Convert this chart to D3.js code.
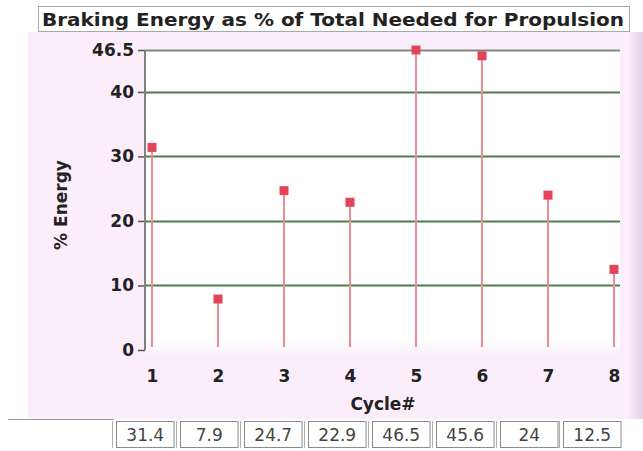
<!DOCTYPE html>
<html>
<head>
<meta charset="utf-8">
<script src="https://cdn.jsdelivr.net/npm/d3@7"></script>
<style>
  body { margin: 0; background: #fff; }
  svg { display: block; }
</style>
</head>
<body>
<div id="content"></div>
<script>
// chart values
var cycles = [1, 2, 3, 4, 5, 6, 7, 8];
var energy = [31.4, 7.9, 24.7, 22.9, 46.5, 45.6, 24, 12.5];
var yTicks = [0, 10, 20, 30, 40, 46.5];
var valueLabels = ['31.4', '7.9', '24.7', '22.9', '46.5', '45.6', '24', '12.5'];

var width = 643, height = 451;
var plot = { left: 145, right: 620, top: 50, bottom: 350 };

var svg = d3.select('#content').append('svg')
    .attr('width', width)
    .attr('height', height);

var defs = svg.append('defs');
var edge = defs.append('linearGradient').attr('id', 'edge')
    .attr('x1', 0).attr('x2', 1).attr('y1', 0).attr('y2', 0);
edge.append('stop').attr('offset', '0').attr('stop-color', '#fbeefa');
edge.append('stop').attr('offset', '1').attr('stop-color', '#e6cfe6');

var fade = defs.append('linearGradient').attr('id', 'fade')
    .attr('x1', 0).attr('x2', 0).attr('y1', 0).attr('y2', 1);
fade.append('stop').attr('offset', '0').attr('stop-color', '#ffffff');
fade.append('stop').attr('offset', '0.94').attr('stop-color', '#ffffff');
fade.append('stop').attr('offset', '1').attr('stop-color', '#fbeefa');

// panel background
svg.append('rect')
    .attr('x', 28).attr('y', 32)
    .attr('width', 602).attr('height', 387)
    .style('fill', '#fbeefa');
svg.append('rect')
    .attr('x', 628).attr('y', 32)
    .attr('width', 15).attr('height', 387)
    .style('fill', 'url(#edge)');

// bottom separator
svg.append('line')
    .attr('x1', 8).attr('x2', 114)
    .attr('y1', 419.5).attr('y2', 419.5)
    .style('stroke', '#9a9a9a');

// plot area
svg.append('rect')
    .attr('x', plot.left).attr('y', plot.top)
    .attr('width', plot.right - plot.left).attr('height', plot.bottom - plot.top + 6)
    .style('fill', 'url(#fade)');

var xScale = d3.scaleLinear()
    .domain([1, 8])
    .range([152, 614]);

var yScale = d3.scaleLinear()
    .domain([0, 46.5])
    .range([plot.bottom, plot.top]);

// grid lines
svg.append('g').selectAll('line')
    .data(yTicks.filter(function(d){ return d > 0; }))
    .enter().append('line')
        .attr('x1', plot.left).attr('x2', plot.right)
        .attr('y1', function(d){ return Math.round(yScale(d)) + 0.5; })
        .attr('y2', function(d){ return Math.round(yScale(d)) + 0.5; })
        .style('stroke', function(d){ return d === 46.5 ? '#858585' : '#4f7d4f'; })
        .style('stroke-width', 2);

// y axis
var yAxis = d3.axisLeft(yScale)
    .tickValues(yTicks)
    .tickFormat(function(d){ return d; })
    .tickSize(7)
    .tickPadding(4);

var yGuide = svg.append('g')
    .attr('transform', 'translate(' + plot.left + ',0)');
yAxis(yGuide);
yGuide.select('path').remove();
yGuide.append('line')
    .attr('x1', 0).attr('x2', 0)
    .attr('y1', plot.top).attr('y2', plot.bottom)
    .style('stroke', '#808080')
    .style('stroke-width', 2);
yGuide.selectAll('.tick line')
    .style('stroke', '#555')
    .style('stroke-width', 1.5);
yGuide.selectAll('.tick text')
    .style('font-family', 'DejaVu Sans')
    .style('font-weight', 'bold')
    .style('font-size', '17px')
    .style('fill', '#222');

// x axis labels
var xAxis = d3.axisBottom(xScale)
    .tickValues(cycles)
    .tickFormat(d3.format('d'))
    .tickSize(0)
    .tickPadding(20);

var xGuide = svg.append('g')
    .attr('transform', 'translate(0,' + plot.bottom + ')');
xAxis(xGuide);
xGuide.select('path').remove();
xGuide.selectAll('.tick text')
    .style('font-family', 'DejaVu Sans')
    .style('font-weight', 'bold')
    .style('font-size', '17px')
    .style('fill', '#222');

// stems
svg.append('g').selectAll('line')
    .data(energy)
    .enter().append('line')
        .attr('x1', function(d, i){ return xScale(cycles[i]); })
        .attr('x2', function(d, i){ return xScale(cycles[i]); })
        .attr('y1', function(d){ return yScale(d); })
        .attr('y2', yScale(0) - 3)
        .style('stroke', '#ef8a96')
        .style('stroke-width', 2);

// markers
svg.append('g').selectAll('rect')
    .data(energy)
    .enter().append('rect')
        .attr('x', function(d, i){ return xScale(cycles[i]) - 4.5; })
        .attr('y', function(d){ return yScale(d) - 4.5; })
        .attr('width', 9)
        .attr('height', 9)
        .style('fill', '#e5425c');

// axis titles
svg.append('text')
    .attr('x', 383).attr('y', 410)
    .attr('text-anchor', 'middle')
    .style('font-family', 'DejaVu Sans')
    .style('font-weight', 'bold')
    .style('font-size', '17px')
    .style('fill', '#222')
    .text('Cycle#');

svg.append('text')
    .attr('transform', 'translate(67,205) rotate(-90)')
    .attr('text-anchor', 'middle')
    .style('font-family', 'DejaVu Sans')
    .style('font-weight', 'bold')
    .style('font-size', '17px')
    .style('fill', '#222')
    .text('% Energy');

// title box
svg.append('rect')
    .attr('x', 38.5).attr('y', 6.5)
    .attr('width', 591).attr('height', 25)
    .style('fill', '#fff')
    .style('stroke', '#a8a8a8');
svg.append('text')
    .attr('x', 333).attr('y', 26)
    .attr('text-anchor', 'middle')
    .attr('textLength', 582)
    .attr('lengthAdjust', 'spacingAndGlyphs')
    .style('font-family', 'DejaVu Sans')
    .style('font-weight', 'bold')
    .style('font-size', '18px')
    .style('fill', '#222')
    .text('Braking Energy as % of Total Needed for Propulsion');

// value boxes
var boxScale = d3.scaleBand()
    .domain(d3.range(valueLabels.length))
    .range([116, 621])
    .paddingInner(0.1);

var boxes = svg.append('g').selectAll('g')
    .data(valueLabels)
    .enter().append('g')
        .attr('transform', function(d, i){ return 'translate(' + Math.round(boxScale(i)) + ',421)'; });

boxes.append('rect')
    .attr('x', 0.5).attr('y', 0.5)
    .attr('width', boxScale.bandwidth()).attr('height', 26)
    .style('fill', '#fff')
    .style('stroke', '#8c8c8c');
boxes.append('line')
    .attr('x1', -3.5).attr('x2', -3.5)
    .attr('y1', 0).attr('y2', 27)
    .style('stroke', '#b0b0b0');
boxes.append('text')
    .attr('x', boxScale.bandwidth() / 2 + 0.5)
    .attr('y', 20)
    .attr('text-anchor', 'middle')
    .style('font-family', 'DejaVu Sans')
    .style('font-size', '17px')
    .style('fill', '#444')
    .text(function(d){ return d; });
</script>
</body>
</html>
